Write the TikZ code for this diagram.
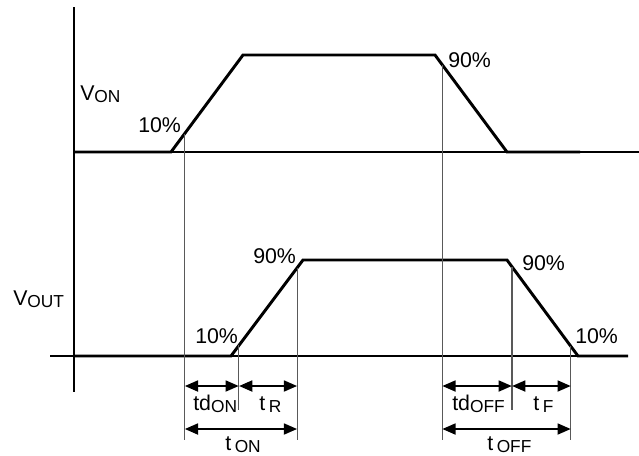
\documentclass[tikz,border=0pt]{standalone}
\usepackage{fontspec}
\setmainfont{Liberation Sans}
\usetikzlibrary{arrows.meta,calc}

\tikzset{
  wave/.style={line width=2.2pt, line join=miter},
  base/.style={line width=1.1pt},
  guide/.style={line width=0.8pt, black!65},
  dim/.style={line width=2pt, {Triangle[length=10pt,width=8pt]}-{Triangle[length=10pt,width=8pt]}},
  lbl/.style={inner sep=0pt, anchor=base west, font=\fontsize{16}{18}\selectfont},
}
\newcommand{\lowtxt}[1]{\raisebox{-1.6pt}{\fontsize{13}{14}\selectfont #1}}

\begin{document}
\begin{tikzpicture}[x=0.75pt, y=-0.75pt]
    \useasboundingbox (0,0) rectangle (639,455);

    % Axis and base lines
    \draw[base] (74,7) -- (74,392);
    \draw[base] (74,152) -- (639,152);
    \draw[base] (50,356) -- (628,356);

    % V_ON waveform
    \coordinate (on0) at (74,152);
    \coordinate (on1) at (171,152);
    \coordinate (on2) at (243,55);
    \coordinate (on3) at (435,55);
    \coordinate (on4) at (507,152);
    \coordinate (on5) at (580,152);
    \draw[wave] (on0) -- (on1) -- (on2) -- (on3) -- (on4) -- (on5);

    % V_OUT waveform
    \coordinate (out0) at (74,356);
    \coordinate (out1) at (231,356);
    \coordinate (out2) at (303,260);
    \coordinate (out3) at (507,260);
    \coordinate (out4) at (578,356);
    \coordinate (out5) at (628,356);
    \draw[wave] (out0) -- (out1) -- (out2) -- (out3) -- (out4) -- (out5);

    % Guide lines
    \coordinate (g1) at ($(on1)!0.19!(on2)$);
    \coordinate (g2) at ($(on3)!0.1!(on4)$);
    \coordinate (g3) at ($(out1)!0.11!(out2)$);
    \coordinate (g4) at ($(out1)!0.92!(out2)$);
    \coordinate (g5) at ($(out3)!0.07!(out4)$);
    \coordinate (g6) at ($(out3)!0.9!(out4)$);
    \draw[guide] (g1) -- (g1 |- 0,440);
    \draw[guide] (g2) -- (g2 |- 0,440);
    \draw[guide] (g3) -- (g3 |- 0,410);
    \draw[guide] (g4) -- (g4 |- 0,440);
    \draw[guide] (g5) -- (g5 |- 0,410);
    \draw[guide] (g6) -- (g6 |- 0,440);

    % Timing arrows
    \coordinate (r1) at (0,386);
    \coordinate (r2) at (0,429);
    \draw[dim] (g1 |- r1) -- (g3 |- r1);
    \draw[dim] (g3 |- r1) -- (g4 |- r1);
    \draw[dim] (g1 |- r2) -- (g4 |- r2);
    \draw[dim] (g2 |- r1) -- (g5 |- r1);
    \draw[dim] (g5 |- r1) -- (g6 |- r1);
    \draw[dim] (g2 |- r2) -- (g6 |- r2);

    % Labels
    \node[lbl] (von) at (80,100) {V\lowtxt{ON}};
    \node[lbl] (vout) at (13,305) {V\lowtxt{OUT}};
    \node[lbl] (on10) at (138,132) {10\%};
    \node[lbl] (on90) at (448,67) {90\%};
    \node[lbl] (out90a) at (253,263) {90\%};
    \node[lbl] (out10a) at (195,343) {10\%};
    \node[lbl] (out90b) at (522,270) {90\%};
    \node[lbl] (out10b) at (575,343) {10\%};
    \node[lbl] (tdon) at (193,410) {td\lowtxt{ON}};
    \node[lbl] (tr) at (259,410) {t\,\lowtxt{R}};
    \node[lbl] (ton) at (225,450) {t\,\lowtxt{ON}};
    \node[lbl] (tdoff) at (452,410) {td\lowtxt{OFF}};
    \node[lbl] (tf) at (533,410) {t\,\lowtxt{F}};
    \node[lbl] (toff) at (487,450) {t\,\lowtxt{OFF}};
\end{tikzpicture}
\end{document}
